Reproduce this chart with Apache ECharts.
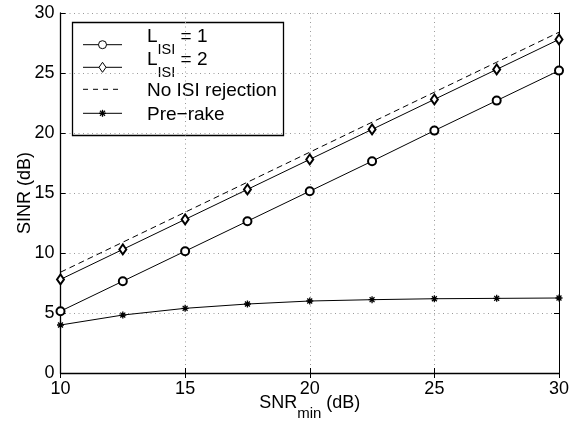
<!DOCTYPE html>
<html>
<head>
<meta charset="utf-8">
<script src="https://cdn.jsdelivr.net/npm/echarts@6/dist/echarts.min.js"></script>
<style>
  html, body { margin: 0; padding: 0; background: #fff; }
  #chart { width: 572px; height: 425px; }
</style>
</head>
<body>
<div id="chart"></div>
<script>
// SINR versus minimum SNR, both in dB
const snrMin = [10, 12.5, 15, 17.5, 20, 22.5, 25, 27.5, 30];
const sinrL1 = [5.15, 7.65, 10.15, 12.65, 15.15, 17.65, 20.2, 22.7, 25.2];
const sinrL2 = [7.8, 10.3, 12.8, 15.3, 17.8, 20.3, 22.8, 25.3, 27.8];
const sinrNoRejection = [8.4, 10.9, 13.4, 15.9, 18.4, 20.9, 23.4, 25.9, 28.4];
const sinrPreRake = [4.0, 4.83, 5.39, 5.75, 6.0, 6.11, 6.19, 6.22, 6.25];

const xTicks = [10, 15, 20, 25, 30];
const yTicks = [0, 5, 10, 15, 20, 25, 30];

const FONT = 'Liberation Sans, Arial, Helvetica, sans-serif';
const ASTERISK = 'path://M0,5L10,5M5,0L5,10M1.5,1.5L8.5,8.5M1.5,8.5L8.5,1.5';

const pairs = ys => snrMin.map((x, i) => [x, ys[i]]);

const seriesDefs = [
  { name: 'L1', label: '{n|L}{s|ISI}{n| = 1}', data: sinrL1, marker: 'circle', dash: 'solid' },
  { name: 'L2', label: '{n|L}{s|ISI}{n| = 2}', data: sinrL2, marker: 'diamond', dash: 'solid' },
  { name: 'NoRej', label: 'No ISI rejection', data: sinrNoRejection, marker: 'none', dash: [6, 4] },
  { name: 'PreRake', label: 'Pre\u2212rake', data: sinrPreRake, marker: 'asterisk', dash: 'solid' }
];

function seriesSymbol(m) {
  if (m === 'circle') return { symbol: 'emptyCircle', symbolSize: 8 };
  if (m === 'diamond') return { symbol: 'emptyDiamond', symbolSize: [7, 10] };
  if (m === 'asterisk') return { symbol: ASTERISK, symbolSize: 7 };
  return { symbol: 'none' };
}

const series = seriesDefs.map(d => Object.assign({
  name: d.name,
  type: 'line',
  data: pairs(d.data),
  showSymbol: d.marker !== 'none',
  lineStyle: { color: '#000', width: 1, type: d.dash },
  itemStyle: { color: '#000', borderColor: '#000', borderWidth: d.marker === 'asterisk' ? 1.3 : 1 },
  emphasis: { disabled: true },
  silent: true,
  animation: false,
  z: 3
}, seriesSymbol(d.marker)));

// Boxed legend drawn with graphic primitives
const LEG = { x: 72.5, y: 22.5, w: 211, h: 113, lineX0: 83, lineX1: 122, textX: 147 };
const rowY = [44.7, 67.3, 89.3, 113.3];
const LEG_FONT = 19;
const richSub = {
  n: { fontSize: LEG_FONT, lineHeight: LEG_FONT, padding: [0, 0, 11, 0], fontFamily: FONT, color: '#000' },
  s: { fontSize: 14.5, lineHeight: 14.5, padding: [15.5, 0, 0, 0], fontFamily: FONT, color: '#000' }
};

function markerGraphic(m, cx, cy) {
  if (m === 'circle') {
    return [{ type: 'circle', shape: { cx, cy, r: 4 }, style: { fill: '#fff', stroke: '#000', lineWidth: 1 } }];
  }
  if (m === 'diamond') {
    return [{ type: 'polygon', shape: { points: [[cx, cy - 5], [cx + 3.5, cy], [cx, cy + 5], [cx - 3.5, cy]] },
      style: { fill: '#fff', stroke: '#000', lineWidth: 1 } }];
  }
  if (m === 'asterisk') {
    const r = 3.5, q = 2.5;
    return [[-r, 0, r, 0], [0, -r, 0, r], [-q, -q, q, q], [-q, q, q, -q]].map(s => ({
      type: 'line', shape: { x1: cx + s[0], y1: cy + s[1], x2: cx + s[2], y2: cy + s[3] },
      style: { stroke: '#000', lineWidth: 1.3 }
    }));
  }
  return [];
}

const legendChildren = [{
  type: 'rect',
  shape: { x: LEG.x, y: LEG.y, width: LEG.w, height: LEG.h },
  style: { fill: '#fff', stroke: '#000', lineWidth: 1.3 }
}];
seriesDefs.forEach((d, i) => {
  const y = rowY[i];
  legendChildren.push({
    type: 'line',
    shape: { x1: LEG.lineX0, y1: y, x2: LEG.lineX1, y2: y },
    style: { stroke: '#000', lineWidth: 1, lineDash: d.dash === 'solid' ? null : [5, 5] }
  });
  markerGraphic(d.marker, (LEG.lineX0 + LEG.lineX1) / 2, y).forEach(g => legendChildren.push(g));
  const hasSub = d.label.indexOf('{s|') >= 0;
  legendChildren.push(hasSub ? {
    type: 'text',
    style: { x: LEG.textX, y: y - 12, text: d.label, rich: richSub, verticalAlign: 'top', align: 'left' }
  } : {
    type: 'text',
    style: { x: LEG.textX, y: y + 1, text: d.label, font: LEG_FONT + 'px ' + FONT, fill: '#000', verticalAlign: 'middle', align: 'left' }
  });
});

const axisLineStyle = { color: '#000', width: 1.3 };
const gridLine = { show: true, lineStyle: { color: '#9a9a9a', width: 1, type: [1, 3.5] } };
const tickIn = { show: true, inside: true, length: 5, lineStyle: { color: '#000', width: 1 } };

const option = {
  backgroundColor: '#fff',
  animation: false,
  grid: { left: 60.5, right: 13, top: 13, bottom: 52, containLabel: false, outerBoundsMode: 'none' },
  xAxis: [{
    type: 'value', min: xTicks[0], max: xTicks[xTicks.length - 1], interval: xTicks[1] - xTicks[0],
    position: 'bottom',
    axisLine: { show: true, lineStyle: axisLineStyle },
    axisTick: tickIn,
    splitLine: gridLine,
    axisLabel: { color: '#000', fontSize: 18, fontFamily: FONT, margin: 7 },
    name: '{n|SNR}{s|min}{n| (dB)}',
    nameLocation: 'middle',
    nameGap: 26,
    nameMoveOverlap: false,
    nameTextStyle: {
      rich: {
        n: { fontSize: 18, lineHeight: 18, padding: [0, 0, 9, 0], fontFamily: FONT, color: '#000' },
        s: { fontSize: 15, lineHeight: 15, padding: [12, 0, 0, 0], fontFamily: FONT, color: '#000' }
      }
    }
  }, {
    type: 'value', min: xTicks[0], max: xTicks[xTicks.length - 1], interval: xTicks[1] - xTicks[0],
    position: 'top',
    axisLine: { show: true, lineStyle: { color: '#000', width: 1 } },
    axisTick: tickIn,
    axisLabel: { show: false },
    splitLine: { show: false }
  }],
  yAxis: [{
    type: 'value', min: yTicks[0], max: yTicks[yTicks.length - 1], interval: yTicks[1] - yTicks[0],
    position: 'left',
    axisLine: { show: true, lineStyle: axisLineStyle },
    axisTick: tickIn,
    splitLine: gridLine,
    axisLabel: { color: '#000', fontSize: 18, fontFamily: FONT, margin: 6 },
    name: 'SINR (dB)',
    nameLocation: 'middle',
    nameGap: 26,
    nameMoveOverlap: false,
    nameTextStyle: { color: '#000', fontSize: 18, fontFamily: FONT }
  }, {
    type: 'value', min: yTicks[0], max: yTicks[yTicks.length - 1], interval: yTicks[1] - yTicks[0],
    position: 'right',
    axisLine: { show: true, lineStyle: { color: '#000', width: 1 } },
    axisTick: tickIn,
    axisLabel: { show: false },
    splitLine: { show: false }
  }],
  series: series,
  graphic: [{ type: 'group', z: 100, children: legendChildren }]
};

const chart = echarts.init(document.getElementById('chart'), null, { renderer: 'canvas' });
chart.setOption(option);
</script>
</body>
</html>
